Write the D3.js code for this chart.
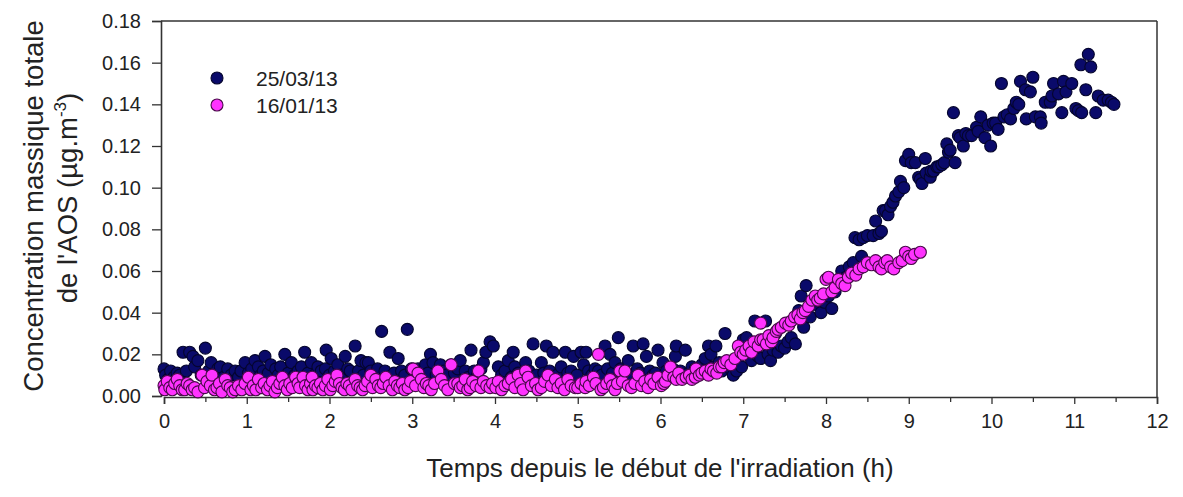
<!DOCTYPE html>
<html><head><meta charset="utf-8">
<script src="https://cdn.jsdelivr.net/npm/d3@7"></script>
<style>
html,body{margin:0;padding:0;background:#fff;}
svg{display:block;font-family:"Liberation Sans",Arial,sans-serif;}
</style></head>
<body>
<svg id="c" width="1183" height="497"></svg>
<script>
// ---- data ----
const seriesNames = ["25/03/13", "16/01/13"];
const xTicks = [0,1,2,3,4,5,6,7,8,9,10,11,12];
const yTicks = [0,0.02,0.04,0.06,0.08,0.10,0.12,0.14,0.16,0.18];
const xLabel = "Temps depuis le début de l'irradiation (h)";
const yLabel1 = "Concentration massique totale";

// 25/03/13 : [time (h), concentration]
const navy = [
[0.00,0.013],[0.02,0.010],[0.05,0.008],[0.08,0.012],[0.12,0.009],[0.16,0.011],[0.19,0.010],[0.23,0.021],[0.27,0.012],[0.31,0.021],[0.35,0.019],[0.37,0.014],[0.41,0.017],[0.45,0.010],[0.50,0.023],[0.54,0.012],[0.57,0.016],[0.61,0.010],[0.65,0.013],[0.68,0.014],[0.72,0.009],[0.77,0.013],[0.81,0.010],[0.86,0.012],[0.90,0.009],[0.93,0.012],[0.98,0.016],
[1.02,0.011],[1.06,0.013],[1.10,0.017],[1.14,0.014],[1.17,0.010],[1.20,0.012],[1.22,0.019],[1.26,0.011],[1.29,0.015],[1.35,0.013],[1.38,0.010],[1.41,0.014],[1.46,0.020],[1.50,0.011],[1.54,0.016],[1.58,0.010],[1.62,0.012],[1.66,0.014],[1.70,0.021],[1.74,0.011],[1.78,0.016],[1.82,0.010],[1.86,0.014],[1.90,0.012],[1.95,0.013],[1.96,0.022],[2.00,0.010],
[2.02,0.018],[2.06,0.012],[2.10,0.015],[2.14,0.010],[2.19,0.019],[2.22,0.013],[2.25,0.012],[2.31,0.024],[2.35,0.012],[2.38,0.017],[2.41,0.010],[2.44,0.016],[2.47,0.016],[2.50,0.012],[2.54,0.009],[2.58,0.013],[2.63,0.031],[2.67,0.012],[2.70,0.009],[2.73,0.021],[2.78,0.011],[2.83,0.018],[2.87,0.012],[2.91,0.010],[2.94,0.032],[2.99,0.013],
[3.03,0.010],[3.07,0.013],[3.11,0.009],[3.16,0.015],[3.19,0.011],[3.22,0.020],[3.25,0.016],[3.29,0.010],[3.34,0.015],[3.38,0.012],[3.41,0.010],[3.47,0.015],[3.51,0.011],[3.55,0.013],[3.58,0.017],[3.64,0.012],[3.68,0.009],[3.71,0.022],[3.75,0.012],[3.79,0.010],[3.83,0.013],[3.86,0.016],[3.89,0.021],[3.94,0.026],[3.98,0.024],
[4.04,0.014],[4.08,0.010],[4.12,0.012],[4.16,0.017],[4.20,0.009],[4.22,0.021],[4.24,0.014],[4.28,0.011],[4.33,0.009],[4.37,0.016],[4.41,0.012],[4.46,0.025],[4.50,0.010],[4.56,0.016],[4.59,0.011],[4.62,0.024],[4.66,0.012],[4.70,0.021],[4.75,0.010],[4.80,0.014],[4.85,0.021],[4.88,0.011],[4.92,0.012],[4.95,0.019],[4.99,0.010],
[5.04,0.021],[5.07,0.015],[5.10,0.021],[5.13,0.012],[5.17,0.010],[5.21,0.013],[5.25,0.012],[5.29,0.010],[5.33,0.024],[5.36,0.013],[5.39,0.020],[5.42,0.011],[5.45,0.016],[5.49,0.028],[5.52,0.013],[5.55,0.012],[5.61,0.017],[5.64,0.010],[5.67,0.024],[5.72,0.013],[5.76,0.011],[5.79,0.025],[5.83,0.019],[5.87,0.012],[5.91,0.010],[5.94,0.011],[5.97,0.022],
[6.03,0.016],[6.07,0.012],[6.11,0.010],[6.15,0.013],[6.18,0.019],[6.19,0.024],[6.24,0.012],[6.30,0.022],[6.34,0.011],[6.38,0.014],[6.42,0.013],[6.46,0.010],[6.50,0.015],[6.54,0.018],[6.58,0.024],[6.61,0.020],[6.64,0.014],[6.67,0.024],[6.71,0.016],[6.74,0.012],[6.78,0.030],[6.82,0.016],[6.85,0.013],[6.88,0.010],[6.92,0.012],[6.98,0.014],
[7.00,0.027],[7.04,0.028],[7.06,0.022],[7.10,0.017],[7.14,0.036],[7.18,0.019],[7.21,0.018],[7.27,0.036],[7.30,0.020],[7.33,0.017],[7.36,0.022],[7.39,0.030],[7.42,0.021],[7.46,0.024],[7.50,0.023],[7.54,0.026],[7.58,0.028],[7.63,0.025],[7.67,0.041],[7.70,0.048],[7.73,0.033],[7.76,0.053],[7.81,0.038],[7.85,0.044],[7.90,0.046],[7.94,0.040],[7.98,0.045],
[8.03,0.048],[8.07,0.042],[8.11,0.050],[8.15,0.054],[8.19,0.060],[8.24,0.057],[8.28,0.062],[8.33,0.064],[8.35,0.076],[8.40,0.075],[8.43,0.067],[8.45,0.076],[8.50,0.077],[8.57,0.077],[8.60,0.084],[8.64,0.078],[8.67,0.079],[8.69,0.089],[8.72,0.089],[8.75,0.087],[8.78,0.091],[8.81,0.093],[8.84,0.096],[8.88,0.098],[8.90,0.103],[8.94,0.100],[8.96,0.113],
[9.00,0.116],[9.03,0.112],[9.08,0.112],[9.12,0.105],[9.14,0.104],[9.16,0.102],[9.20,0.114],[9.21,0.107],[9.26,0.105],[9.27,0.108],[9.30,0.108],[9.34,0.110],[9.36,0.110],[9.40,0.111],[9.43,0.112],[9.46,0.121],[9.48,0.117],[9.50,0.118],[9.54,0.136],[9.56,0.112],[9.60,0.125],[9.62,0.124],[9.66,0.120],[9.69,0.126],[9.72,0.125],[9.76,0.125],[9.82,0.129],[9.84,0.127],[9.87,0.134],[9.92,0.124],[9.96,0.130],[9.99,0.120],
[10.02,0.131],[10.05,0.131],[10.08,0.128],[10.12,0.150],[10.15,0.134],[10.19,0.135],[10.23,0.133],[10.27,0.138],[10.30,0.141],[10.33,0.140],[10.35,0.151],[10.41,0.147],[10.42,0.133],[10.47,0.146],[10.50,0.153],[10.53,0.134],[10.59,0.134],[10.60,0.131],[10.65,0.141],[10.71,0.141],[10.73,0.144],[10.75,0.150],[10.81,0.145],[10.85,0.136],[10.87,0.151],[10.90,0.146],[10.97,0.150],
[11.02,0.138],[11.05,0.137],[11.08,0.159],[11.09,0.136],[11.14,0.147],[11.17,0.164],[11.20,0.158],[11.26,0.136],[11.29,0.144],[11.35,0.142],[11.41,0.142],[11.45,0.141],[11.48,0.140]
];

// 16/01/13 : [time (h), concentration]
const magenta = [
[0.00,0.005],[0.01,0.003],[0.04,0.007],[0.07,0.004],[0.10,0.003],[0.13,0.006],[0.16,0.008],[0.19,0.005],[0.22,0.003],[0.25,0.003],[0.28,0.006],[0.31,0.005],[0.34,0.003],[0.37,0.004],[0.41,0.002],[0.46,0.010],[0.49,0.004],[0.52,0.007],[0.56,0.005],[0.58,0.010],[0.61,0.003],[0.64,0.004],[0.67,0.006],[0.70,0.002],[0.74,0.008],[0.77,0.005],[0.80,0.004],[0.83,0.002],[0.86,0.003],[0.90,0.005],[0.94,0.003],[0.98,0.006],
[1.02,0.009],[1.05,0.003],[1.08,0.005],[1.11,0.003],[1.14,0.008],[1.18,0.004],[1.21,0.006],[1.25,0.003],[1.28,0.005],[1.31,0.007],[1.34,0.002],[1.37,0.004],[1.40,0.006],[1.43,0.009],[1.46,0.005],[1.49,0.003],[1.52,0.006],[1.55,0.004],[1.59,0.009],[1.62,0.006],[1.64,0.004],[1.68,0.009],[1.71,0.005],[1.74,0.003],[1.77,0.006],[1.79,0.009],[1.80,0.003],[1.83,0.005],[1.86,0.004],[1.89,0.006],[1.92,0.003],[1.95,0.005],[1.98,0.008],
[2.01,0.003],[2.04,0.005],[2.07,0.007],[2.09,0.010],[2.12,0.006],[2.15,0.004],[2.18,0.003],[2.21,0.006],[2.24,0.005],[2.27,0.003],[2.31,0.008],[2.34,0.005],[2.37,0.004],[2.40,0.003],[2.43,0.005],[2.46,0.007],[2.50,0.010],[2.52,0.004],[2.56,0.008],[2.59,0.005],[2.62,0.004],[2.65,0.006],[2.68,0.009],[2.72,0.005],[2.76,0.003],[2.79,0.007],[2.82,0.005],[2.85,0.004],[2.88,0.006],[2.91,0.003],[2.95,0.004],[2.98,0.007],
[3.01,0.013],[3.04,0.005],[3.07,0.011],[3.11,0.008],[3.14,0.004],[3.17,0.006],[3.20,0.005],[3.23,0.003],[3.27,0.006],[3.31,0.012],[3.35,0.008],[3.39,0.005],[3.43,0.003],[3.47,0.015],[3.51,0.006],[3.55,0.006],[3.58,0.004],[3.61,0.005],[3.64,0.008],[3.67,0.003],[3.70,0.004],[3.73,0.007],[3.77,0.005],[3.80,0.012],[3.83,0.004],[3.86,0.007],[3.90,0.005],[3.94,0.004],[3.97,0.006],
[4.01,0.004],[4.04,0.007],[4.08,0.003],[4.12,0.005],[4.16,0.006],[4.20,0.008],[4.24,0.004],[4.28,0.010],[4.31,0.006],[4.34,0.003],[4.37,0.012],[4.40,0.009],[4.44,0.005],[4.49,0.006],[4.52,0.003],[4.56,0.004],[4.60,0.007],[4.64,0.010],[4.68,0.005],[4.73,0.008],[4.76,0.004],[4.80,0.006],[4.84,0.003],[4.88,0.008],[4.92,0.005],[4.97,0.004],
[5.00,0.004],[5.04,0.006],[5.09,0.004],[5.10,0.007],[5.14,0.005],[5.19,0.009],[5.22,0.006],[5.25,0.020],[5.28,0.003],[5.31,0.004],[5.35,0.006],[5.39,0.008],[5.42,0.005],[5.45,0.003],[5.48,0.006],[5.51,0.012],[5.54,0.007],[5.57,0.012],[5.61,0.005],[5.65,0.004],[5.69,0.006],[5.73,0.010],[5.77,0.005],[5.81,0.007],[5.85,0.004],[5.88,0.008],[5.92,0.006],[5.97,0.009],
[6.01,0.005],[6.04,0.006],[6.06,0.007],[6.09,0.010],[6.12,0.014],[6.16,0.009],[6.19,0.008],[6.22,0.011],[6.26,0.008],[6.31,0.009],[6.35,0.010],[6.38,0.008],[6.42,0.009],[6.43,0.013],[6.47,0.010],[6.50,0.011],[6.54,0.012],[6.58,0.010],[6.61,0.013],[6.64,0.012],[6.68,0.011],[6.71,0.014],[6.74,0.014],[6.77,0.016],[6.80,0.017],[6.85,0.015],[6.90,0.018],[6.94,0.024],[6.97,0.021],
[7.00,0.020],[7.03,0.022],[7.07,0.024],[7.10,0.021],[7.13,0.026],[7.18,0.024],[7.21,0.027],[7.21,0.035],[7.24,0.027],[7.28,0.025],[7.31,0.029],[7.34,0.026],[7.36,0.028],[7.40,0.031],[7.42,0.032],[7.46,0.033],[7.51,0.035],[7.55,0.034],[7.58,0.036],[7.62,0.038],[7.66,0.039],[7.69,0.037],[7.72,0.040],[7.75,0.041],[7.79,0.043],[7.83,0.046],[7.87,0.048],[7.90,0.046],[7.93,0.047],[7.97,0.049],
[8.00,0.056],[8.03,0.057],[8.07,0.050],[8.11,0.052],[8.15,0.056],[8.19,0.054],[8.23,0.053],[8.27,0.057],[8.31,0.059],[8.36,0.058],[8.40,0.061],[8.45,0.062],[8.50,0.064],[8.55,0.063],[8.60,0.065],[8.64,0.062],[8.67,0.061],[8.71,0.064],[8.74,0.065],[8.78,0.062],[8.82,0.061],[8.88,0.064],[8.92,0.065],[8.96,0.069],[9.00,0.067],[9.03,0.066],[9.07,0.068],[9.14,0.069]
];

const colors = {navyFill:"#0a0a6a", navyStroke:"#05052e", magFill:"#ff33ff", magStroke:"#4a0a4a"};

// ---- chart ----
const svg = d3.select("#c");
const x = d3.scaleLinear().domain([0,12]).range([164,1157]);
const y = d3.scaleLinear().domain([0,0.18]).range([396,21]);
const axisColor = "#333";
const font = "Liberation Sans, Arial, sans-serif";

// frame top and right
svg.append("line").attr("x1",161).attr("x2",x(12)).attr("y1",y(0.18)).attr("y2",y(0.18)).attr("stroke",axisColor).attr("stroke-width",1.5);
svg.append("line").attr("x1",x(12)).attr("x2",x(12)).attr("y1",y(0.18)).attr("y2",y(0)+1).attr("stroke",axisColor).attr("stroke-width",1.5);

// y axis
const gy = svg.append("g").attr("transform","translate(161,0)")
  .call(d3.axisLeft(y).tickValues(yTicks).tickFormat(d3.format(".2f")).tickSize(9).tickPadding(11));
gy.selectAll("text").attr("font-size",20).attr("fill","#222").attr("font-family",font);

// x axis minor ticks
const minor = xTicks.slice(0,-1).map(v=>v+0.5);
const gxm = svg.append("g").attr("transform","translate(0,397)")
  .call(d3.axisBottom(x).tickValues(minor).tickSize(5).tickFormat(""));
gxm.select(".domain").remove();
const gx = svg.append("g").attr("transform","translate(0,397)")
  .call(d3.axisBottom(x).tickValues(xTicks).tickSize(7).tickPadding(10).tickFormat(d3.format("d")));
gx.selectAll("text").attr("font-size",20).attr("fill","#222").attr("font-family",font);
[gy,gx,gxm].forEach(g=>{g.selectAll("line").attr("stroke",axisColor).attr("stroke-width",1.3); g.selectAll(".domain").attr("stroke",axisColor).attr("stroke-width",1.6);});

// points
function drawSeries(data, fill, stroke){
  svg.append("g").selectAll("circle").data(data).join("circle")
    .attr("cx",d=>x(d[0])).attr("cy",d=>y(d[1])).attr("r",6)
    .attr("fill",fill).attr("stroke",stroke).attr("stroke-width",1.1);
}
drawSeries(navy, colors.navyFill, colors.navyStroke);
drawSeries(magenta, colors.magFill, colors.magStroke);

// legend
const leg = svg.append("g");
const legItems = [[seriesNames[0],colors.navyFill,colors.navyStroke],[seriesNames[1],colors.magFill,colors.magStroke]];
legItems.forEach((it,i)=>{
  leg.append("circle").attr("cx",217).attr("cy",78+i*27).attr("r",6).attr("fill",it[1]).attr("stroke",it[2]).attr("stroke-width",1.1);
  leg.append("text").attr("x",256).attr("y",78+i*27).attr("dy","0.36em").attr("font-size",21).attr("fill","#222").text(it[0]);
});

// axis titles
svg.append("text").attr("x",660).attr("y",477).attr("text-anchor","middle").attr("font-size",26).attr("fill","#222").text(xLabel);
svg.append("text").attr("transform","translate(43,206) rotate(-90)").attr("text-anchor","middle").attr("font-size",27.5).attr("fill","#222").text(yLabel1);
const t2 = svg.append("text").attr("transform","translate(77,198) rotate(-90)").attr("text-anchor","middle").attr("font-size",27.5).attr("fill","#222");
t2.append("tspan").text("de l'AOS (µg.m");
t2.append("tspan").attr("dy",-11).attr("font-size",17).text("-3");
t2.append("tspan").attr("dy",11).text(")");
</script>
</body></html>
